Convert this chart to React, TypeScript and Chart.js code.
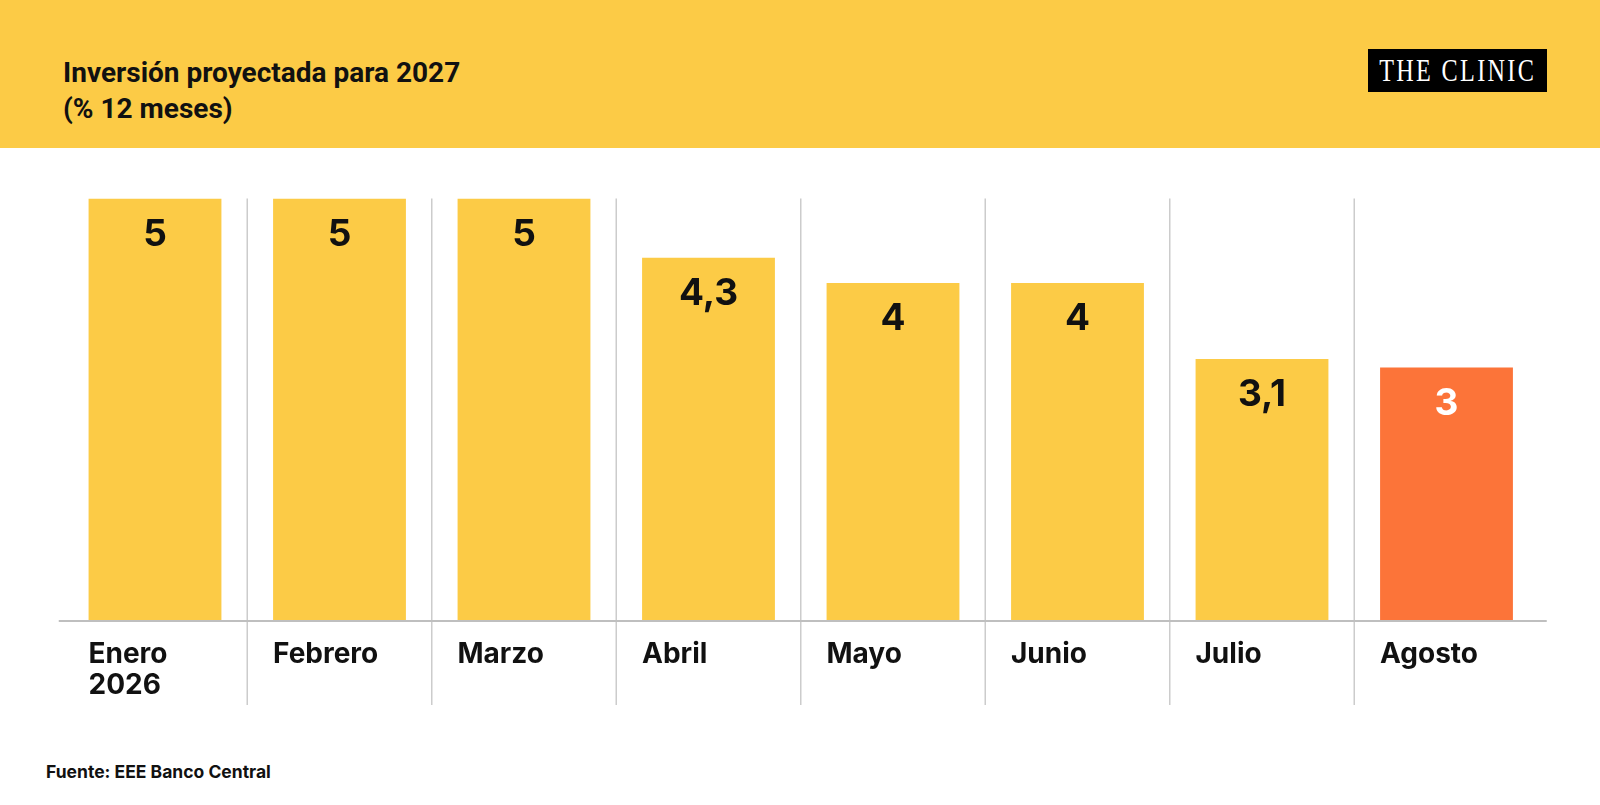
import React, { useEffect, useRef } from 'react';
import { Chart, registerables } from 'chart.js';

Chart.register(...registerables);

const months: (string | string[])[] = [['Enero', '2026'], 'Febrero', 'Marzo', 'Abril', 'Mayo', 'Junio', 'Julio', 'Agosto'];
const values = [5, 5, 5, 4.3, 4, 4, 3.1, 3];
const valueLabels = ['5', '5', '5', '4,3', '4', '4', '3,1', '3'];
const barColors = ['#FCCB46', '#FCCB46', '#FCCB46', '#FCCB46', '#FCCB46', '#FCCB46', '#FCCB46', '#FC7439'];
const valueColors = ['#111', '#111', '#111', '#111', '#111', '#111', '#111', '#fff'];

const YELLOW = '#FCCB46';
const LABEL_FONT = "Inter, 'Noto Sans', sans-serif";

// separators, baseline and the numbers inside the bars
const decorPlugin = {
  id: 'decor',
  afterDatasetsDraw(chart: any) {
    const { ctx, chartArea, scales } = chart;
    const x = scales.x;
    ctx.save();

    ctx.strokeStyle = '#CCCCCC';
    ctx.lineWidth = 1.5;
    for (let i = 1; i < values.length; i++) {
      const px = (x.getPixelForValue(i - 1) + x.getPixelForValue(i)) / 2;
      ctx.beginPath();
      ctx.moveTo(px, chartArea.top);
      ctx.lineTo(px, chartArea.bottom + 84);
      ctx.stroke();
    }

    ctx.strokeStyle = '#BFBFBF';
    ctx.lineWidth = 2;
    ctx.beginPath();
    ctx.moveTo(chartArea.left - 4, chartArea.bottom);
    ctx.lineTo(chartArea.right + 8, chartArea.bottom);
    ctx.stroke();

    const meta = chart.getDatasetMeta(0);
    ctx.font = `bold 37px ${LABEL_FONT}`;
    ctx.textAlign = 'center';
    ctx.textBaseline = 'middle';
    meta.data.forEach((bar: any, i: number) => {
      ctx.fillStyle = valueColors[i];
      ctx.fillText(valueLabels[i], bar.x, bar.y + 36);
    });
    ctx.restore();
  },
};

export default function App() {
  const canvasRef = useRef<HTMLCanvasElement>(null);

  useEffect(() => {
    const el = canvasRef.current;
    if (!el) return;

    const chart = new Chart(el, {
      type: 'bar',
      data: {
        labels: months,
        datasets: [{
          data: values,
          backgroundColor: barColors,
          borderWidth: 0,
          categoryPercentage: 1,
          barPercentage: 0.72,
        }],
      },
      options: {
        responsive: true,
        maintainAspectRatio: false,
        animation: false,
        layout: { padding: { top: 50.5, left: 62.75, right: 61.25, bottom: 0 } },
        plugins: {
          legend: { display: false },
          tooltip: { enabled: false },
        },
        scales: {
          x: {
            grid: { display: false, drawTicks: false },
            border: { display: false },
            afterFit: (scale: any) => { scale.height = 84; },
            ticks: {
              color: '#111',
              font: { family: LABEL_FONT, size: 28, weight: 'bold', lineHeight: 1.1 },
              padding: 18,
              align: 'start',
              labelOffset: -66.5,
              maxRotation: 0,
              autoSkip: false,
            },
          },
          y: {
            display: false,
            min: 0,
            max: 5,
          },
        },
      },
      plugins: [decorPlugin],
    });

    return () => {
      chart.destroy();
    };
  }, []);

  return (
    <div style={{ position: 'absolute', left: 0, top: 0, width: 1600, height: 805, background: '#fff', overflow: 'hidden' }}>
      <div style={{ position: 'absolute', left: 0, top: 0, width: 1600, height: 148, background: YELLOW }} />
      <div style={{
        position: 'absolute', left: 63, top: 55,
        fontFamily: "Roboto, 'Noto Sans', sans-serif", whiteSpace: 'nowrap',
        fontWeight: 'bold', fontSize: 28, lineHeight: '36px', color: '#111',
      }}>
        Inversión proyectada para 2027<br />(% 12 meses)
      </div>
      <div style={{
        position: 'absolute', left: 1368, top: 49, width: 179, height: 43, background: '#000',
        display: 'flex', alignItems: 'center', justifyContent: 'center', overflow: 'hidden',
      }}>
        <span style={{
          fontFamily: "'Liberation Serif', 'DejaVu Serif', serif", fontSize: 31, color: '#fff',
          letterSpacing: 3, display: 'inline-block', transform: 'scaleX(0.78)', whiteSpace: 'nowrap',
        }}>THE CLINIC</span>
      </div>
      <div style={{ position: 'absolute', left: 0, top: 148, width: 1600, height: 557 }}>
        <canvas ref={canvasRef} />
      </div>
      <div style={{
        position: 'absolute', left: 46, top: 762, fontFamily: LABEL_FONT, fontWeight: 'bold',
        fontSize: 17.5, lineHeight: '20px', color: '#111',
      }}>
        Fuente: EEE Banco Central
      </div>
    </div>
  );
}
